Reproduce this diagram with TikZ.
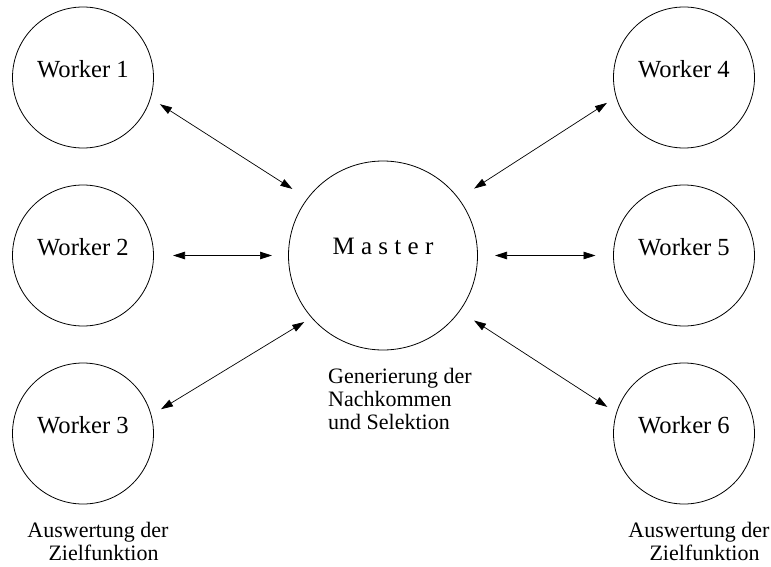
\documentclass[tikz,border=0pt]{standalone}
\usepackage{fontspec}
\setmainfont{Liberation Serif}
\usetikzlibrary{arrows.meta}
\begin{document}
\begin{tikzpicture}[x=1pt,y=-1pt,
  worker/.style={circle,draw,line width=0.8pt,minimum size=141pt,inner sep=0pt,outer sep=0pt,
    font=\fontsize{24.6}{28}\selectfont,text depth=17.5pt},
  master/.style={circle,draw,line width=0.8pt,minimum size=189pt,inner sep=0pt,outer sep=0pt,
    font=\fontsize{25}{28}\selectfont,text depth=19pt},
  note/.style={font=\fontsize{22}{23}\selectfont,inner sep=0pt},
  link/.style={line width=0.7pt,
    {Triangle[length=12pt,width=7.5pt]}-{Triangle[length=12pt,width=7.5pt]}}]
\useasboundingbox (0,0) rectangle (771,567);

% master process
\node[master] (m) at (383,255.5) {M a s t e r};
\node[note,anchor=north west,align=left] (mtask) at (328,368)
  {Generierung der\\Nachkommen\\und Selektion};

% worker processes
\node[worker] (w1) at (83,77.5)   {Worker 1};
\node[worker] (w2) at (83,255.5)  {Worker 2};
\node[worker] (w3) at (83,433.5)  {Worker 3};
\node[worker] (w4) at (684,77.5)  {Worker 4};
\node[worker] (w5) at (684,255.5) {Worker 5};
\node[worker] (w6) at (684,433.5) {Worker 6};

% worker tasks
\node[note,align=center] (ltask) at (98,541)  {Auswertung der\\\hspace*{0.5em}Zielfunktion};
\node[note,align=center] (rtask) at (699,541) {Auswertung der\\\hspace*{0.5em}Zielfunktion};

% communication links
\draw[link,shorten <=11.3pt,shorten >=18pt]  (w1.-17.4) -- (m.143.1);
\draw[link,shorten <=19.5pt,shorten >=16.5pt] (w2.0) -- (m.180);
\draw[link,shorten <=11.6pt,shorten >=8.7pt]  (w3.15.9) -- (m.-139.1);
\draw[link,shorten <=11pt,shorten >=18.6pt]   (w4.196.8) -- (m.37.3);
\draw[link,shorten <=18pt,shorten >=17.5pt]   (w5.180) -- (m.0);
\draw[link,shorten <=11pt,shorten >=17.4pt]   (w6.163.2) -- (m.-36.5);
\end{tikzpicture}
\end{document}
